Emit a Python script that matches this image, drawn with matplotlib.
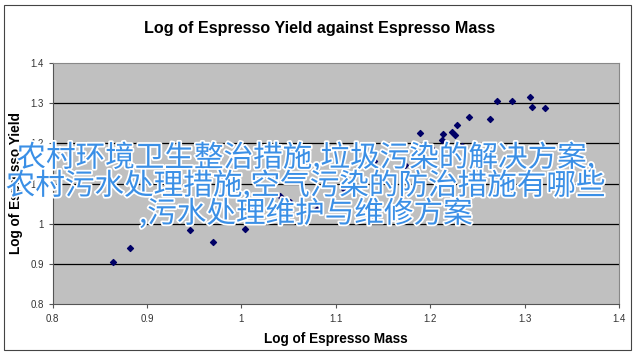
import matplotlib
matplotlib.use("Agg")
import matplotlib.pyplot as plt
import matplotlib.patheffects as pe
from matplotlib.patches import Rectangle

# log of espresso mass / log of espresso yield
log_mass = [0.864, 0.882, 0.945, 0.970, 1.004, 1.011, 1.041, 1.042, 1.051, 1.080,
            1.109, 1.140, 1.173, 1.189, 1.203, 1.212, 1.214, 1.223, 1.226, 1.228,
            1.234, 1.241, 1.263, 1.271, 1.287, 1.306, 1.308, 1.322]
log_yield = [0.905, 0.941, 0.985, 0.955, 0.988, 1.041, 1.069, 1.032, 1.054, 1.037,
             1.086, 1.156, 1.145, 1.225, 1.183, 1.208, 1.222, 1.229, 1.221, 1.245,
             1.193, 1.265, 1.260, 1.306, 1.304, 1.314, 1.289, 1.288]

x_ticks = [0.8, 0.9, 1.0, 1.1, 1.2, 1.3, 1.4]
x_tick_labels = ["0.8", "0.9", "1", "1.1", "1.2", "1.3", "1.4"]
y_ticks = [0.8, 0.9, 1.0, 1.1, 1.2, 1.3, 1.4]
y_tick_labels = ["0.8", "0.9", "1", "1.1", "1.2", "1.3", "1.4"]

overlay_lines = ["农村环境卫生整治措施,垃圾污染的解决方案,",
                 "农村污水处理措施,空气污染的防治措施有哪些",
                 ",污水处理维护与维修方案"]

plt.rcParams['font.family'] = ['Liberation Sans', 'DejaVu Sans']

fig = plt.figure(figsize=(6.4, 3.59), dpi=100)
fig.patch.set_facecolor('white')

# outer chart border
fig.patches.append(Rectangle((4 / 640, 1 - 350 / 359), 627 / 640, 345 / 359,
                             transform=fig.transFigure, fill=False,
                             edgecolor='#444444', linewidth=0.8))

ax = fig.add_axes([0.0823, 0.1524, 0.885, 0.6729])
ax.set_facecolor('#c0c0c0')
ax.set_xlim(0.8, 1.4)
ax.set_ylim(0.8, 1.4)

for y in y_ticks[1:-1]:
    ax.axhline(y, color='black', linewidth=0.9, zorder=1)

ax.scatter(log_mass, log_yield, marker='D', s=9, color='#000066', zorder=3)

ax.set_xticks(x_ticks)
ax.set_xticklabels(x_tick_labels)
ax.set_yticks(y_ticks)
ax.set_yticklabels(y_tick_labels)
ax.tick_params(direction='out', length=3, width=0.8, colors='#555555',
               labelsize=7, labelcolor='#333333')
ax.tick_params(axis='x', pad=4)
for side in ['top', 'right']:
    ax.spines[side].set_color('#888888')
    ax.spines[side].set_linewidth(0.8)
for side in ['left', 'bottom']:
    ax.spines[side].set_color('#555555')
    ax.spines[side].set_linewidth(0.8)

fig.text(0.5, 1 - 28 / 359, 'Log of Espresso Yield against Espresso Mass',
         ha='center', va='center', fontsize=11.6, fontweight='bold')
ax.set_xlabel('Log of Espresso Mass', fontsize=9.8, fontweight='bold', labelpad=6)
ax.set_ylabel('Log of Espresso Yield', fontsize=9.8, fontweight='bold', labelpad=5)

for i, line in enumerate(overlay_lines):
    fig.text(306 / 640, 1 - (158 + 28 * i) / 359, line,
             ha='center', va='center', fontsize=21.3, color='#3a8fe6',
             family=['Noto Sans CJK SC', 'DejaVu Sans'],
             path_effects=[pe.withStroke(linewidth=2.5, foreground='white')],
             zorder=10)

fig.savefig('out.png', dpi=100)
